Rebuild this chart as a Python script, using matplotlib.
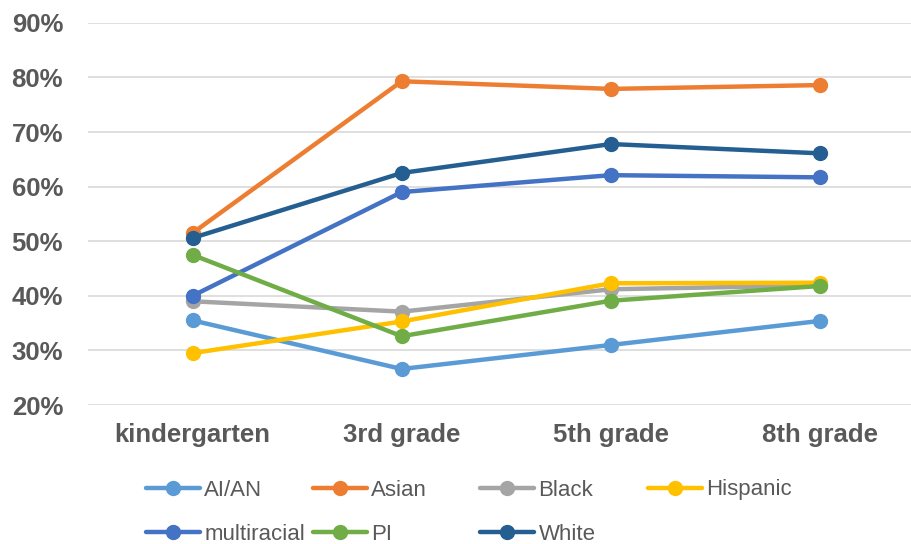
import matplotlib.pyplot as plt
from matplotlib.ticker import PercentFormatter

grades = ['kindergarten', '3rd grade', '5th grade', '8th grade']

ai_an = [35.5, 26.6, 31.0, 35.4]
asian = [51.5, 79.3, 77.9, 78.6]
black = [39.0, 37.1, 41.2, 41.9]
hispanic = [29.5, 35.3, 42.3, 42.4]
multiracial = [40.0, 59.0, 62.1, 61.7]
pi = [47.5, 32.6, 39.1, 41.8]
white = [50.6, 62.5, 67.8, 66.1]

series = [
	('AI/AN', ai_an, '#5B9BD5'),
	('Asian', asian, '#ED7D31'),
	('Black', black, '#A5A5A5'),
	('Hispanic', hispanic, '#FFC000'),
	('multiracial', multiracial, '#4472C4'),
	('PI', pi, '#70AD47'),
	('White', white, '#255E91'),
]

plt.rcParams['font.family'] = ['Liberation Sans', 'DejaVu Sans']

fig = plt.figure(figsize=(9.12, 5.44), dpi=100)
ax = fig.add_axes([0.0965, 0.2555, 0.9035, 0.7025])

x = list(range(len(grades)))
handles = []
for name, vals, col in series:
	h, = ax.plot(x, vals, color=col, linewidth=3.2, marker='o', markersize=10,
				 label=name, solid_capstyle='round')
	handles.append(h)

ax.set_xlim(-0.5, 3.44)
ax.set_ylim(20, 90)
ax.set_yticks(range(20, 91, 10))
ax.yaxis.set_major_formatter(PercentFormatter(decimals=0))
ax.set_xticks(x)
ax.set_xticklabels(grades)
ax.grid(axis='y', color='#D9D9D9', linewidth=1.2)
ax.set_axisbelow(True)
for s in ax.spines.values():
	s.set_visible(False)
ax.tick_params(length=0, labelsize=18.5, colors='#595959')
ax.tick_params(axis='x', pad=13)
ax.tick_params(axis='y', pad=18)
for lab in ax.get_xticklabels() + ax.get_yticklabels():
	lab.set_fontweight('bold')

# legend: one small legend per entry, 4 evenly spaced columns, two rows
col_x = [146, 313, 480, 648]
row_y = [490, 534]
for k, h in enumerate(handles):
	lx = col_x[k % 4]
	ly = row_y[k // 4]
	leg = fig.legend([h], [series[k][0]], loc='center left',
					 bbox_to_anchor=(lx / 912, 1 - ly / 544),
					 frameon=False, fontsize=16, handlelength=2.45, handletextpad=0.18,
					 borderpad=0, borderaxespad=0)
	for t in leg.get_texts():
		t.set_color('#595959')

fig.savefig('out.png', dpi=100)
